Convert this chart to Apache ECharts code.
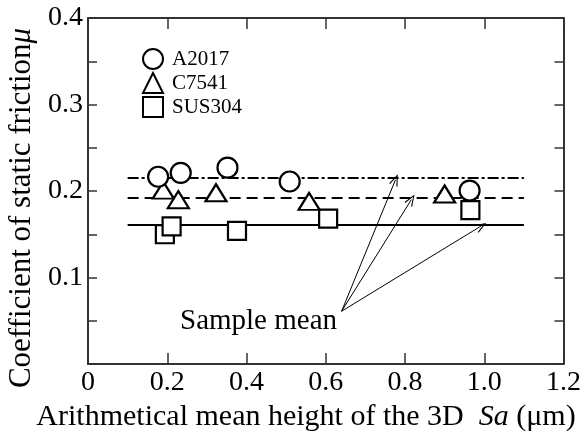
<!DOCTYPE html>
<html>
<head>
<meta charset="utf-8">
<script src="https://cdn.jsdelivr.net/npm/echarts@6/dist/echarts.min.js"></script>
<style>
html,body{margin:0;padding:0;background:#fff;}
#c{width:584px;height:436px;}
</style>
</head>
<body>
<div id="c"></div>
<script>
// ---- data ----
var seriesNames = ['A2017', 'C7541', 'SUS304'];
var a2017 = [[0.177, 0.2165], [0.234, 0.221], [0.352, 0.227], [0.509, 0.211], [0.963, 0.2005]];
var c7541 = [[0.19, 0.201], [0.228, 0.190], [0.323, 0.198], [0.558, 0.188], [0.90, 0.1965]];
var sus304 = [[0.194, 0.150], [0.211, 0.159], [0.376, 0.154], [0.606, 0.168], [0.965, 0.178]];
var meanValues = [0.215, 0.1925, 0.1615];   // sample mean lines (A2017, C7541, SUS304)
var meanRange = [0.1, 1.1];                 // x extent of the mean lines
var arrowStart = [0.64, 0.061];
var arrowEnds = [[0.776, 0.213], [0.816, 0.19], [0.992, 0.1595]];
var xTicks = [0, 0.2, 0.4, 0.6, 0.8, 1.0, 1.2];
var yTickLabels = [0.1, 0.2, 0.3, 0.4];

var FONT = "'Liberation Serif','Times New Roman',serif";
var chart = echarts.init(document.getElementById('c'), null, {renderer: 'canvas'});

var symbols = ['circle', 'triangle', 'rect'];
var symbolSizes = [20, [21, 17], 18];
var dashTypes = [[11, 3, 3, 3], [11, 6], 'solid'];
var dataSets = [a2017, c7541, sus304];

var series = dataSets.map(function (d, i) {
  return {
    name: seriesNames[i],
    type: 'scatter',
    data: d,
    symbol: symbols[i],
    symbolSize: symbolSizes[i],
    itemStyle: {color: '#fff', borderColor: '#000', borderWidth: 2.2, opacity: 1},
    z: 5 - i,
    emphasis: {disabled: true},
    markLine: {
      silent: true,
      symbol: ['none', 'none'],
      label: {show: false},
      lineStyle: {color: '#000', width: 2, type: dashTypes[i]},
      emphasis: {disabled: true},
      z: 1,
      data: [[{coord: [meanRange[0], meanValues[i]]}, {coord: [meanRange[1], meanValues[i]]}]]
    }
  };
});

var arrowHead = 'path://M5,0 L10,14 L8.8,14.4 L5,3.2 L1.2,14.4 L0,14 Z';
series.push({
  name: 'annotation',
  type: 'scatter',
  data: [],
  markLine: {
    silent: true,
    symbol: ['none', arrowHead],
    symbolSize: [9, 12],
    label: {show: false},
    lineStyle: {color: '#000', width: 1, type: 'solid'},
    emphasis: {disabled: true},
    data: arrowEnds.map(function (e) {
      return [{coord: arrowStart}, {coord: e}];
    })
  }
});

function yLab(v) {
  for (var k = 0; k < yTickLabels.length; k++) {
    if (Math.abs(v - yTickLabels[k]) < 1e-6) return yTickLabels[k].toFixed(1);
  }
  return '';
}
function xLab(v) {
  if (Math.abs(v) < 1e-9) return '0';
  return v.toFixed(1);
}

var axisLineStyle = {color: '#333', width: 2};

chart.setOption({
  animation: false,
  backgroundColor: '#fff',
  grid: {left: 88, right: 20, top: 18, bottom: 72, containLabel: false},
  legend: {
    data: seriesNames,
    orient: 'vertical',
    left: 137, top: 43,
    itemWidth: 20, itemHeight: 20, itemGap: 2,
    selectedMode: false,
    textStyle: {fontFamily: FONT, fontSize: 21, color: '#000', padding: [0, 0, 0, 4]}
  },
  xAxis: [{
    type: 'value', min: 0, max: 1.2, interval: 0.2, position: 'bottom',
    axisLine: {show: true, onZero: false, lineStyle: axisLineStyle},
    axisTick: {show: true, inside: true, length: 11, lineStyle: {color: '#333', width: 1.5}},
    axisLabel: {formatter: xLab, fontFamily: FONT, fontSize: 28, color: '#000', margin: 5},
    splitLine: {show: false}
  }, {
    type: 'value', min: 0, max: 1.2, interval: 0.2, position: 'top',
    axisLine: {show: true, onZero: false, lineStyle: axisLineStyle},
    axisTick: {show: true, inside: true, length: 11, lineStyle: {color: '#333', width: 1.5}},
    axisLabel: {show: false},
    splitLine: {show: false}
  }],
  yAxis: [{
    type: 'value', min: 0, max: 0.4, interval: 0.05, position: 'left',
    axisLine: {show: true, onZero: false, lineStyle: axisLineStyle},
    axisTick: {show: true, inside: true, length: 9, lineStyle: {color: '#333', width: 1.5}},
    axisLabel: {formatter: yLab, fontFamily: FONT, fontSize: 28, color: '#000', margin: 5},
    splitLine: {show: false}
  }, {
    type: 'value', min: 0, max: 0.4, interval: 0.05, position: 'right',
    axisLine: {show: true, onZero: false, lineStyle: axisLineStyle},
    axisTick: {show: true, inside: true, length: 9, lineStyle: {color: '#333', width: 1.5}},
    axisLabel: {show: false},
    splitLine: {show: false}
  }],
  graphic: [{
    type: 'text',
    x: 22, y: 208, rotation: Math.PI / 2,
    style: {
      text: '{n|Coefficient of static friction}{i|μ}',
      align: 'center', verticalAlign: 'middle',
      rich: {
        n: {fontFamily: FONT, fontSize: 31, fill: '#000'},
        i: {fontFamily: FONT, fontSize: 31, fontStyle: 'italic', fill: '#000'}
      }
    }
  }, {
    type: 'text',
    x: 306, y: 417,
    style: {
      text: '{n|Arithmetical mean height of the 3D  }{i|Sa}{n| (μm)}',
      align: 'center', verticalAlign: 'middle',
      rich: {
        n: {fontFamily: FONT, fontSize: 30, fill: '#000'},
        i: {fontFamily: FONT, fontSize: 30, fontStyle: 'italic', fill: '#000'}
      }
    }
  }, {
    type: 'text',
    x: 180, y: 321,
    style: {
      text: 'Sample mean',
      align: 'left', verticalAlign: 'middle',
      fontFamily: FONT, fontSize: 29, fill: '#000'
    }
  }],
  series: series
});
</script>
</body>
</html>
